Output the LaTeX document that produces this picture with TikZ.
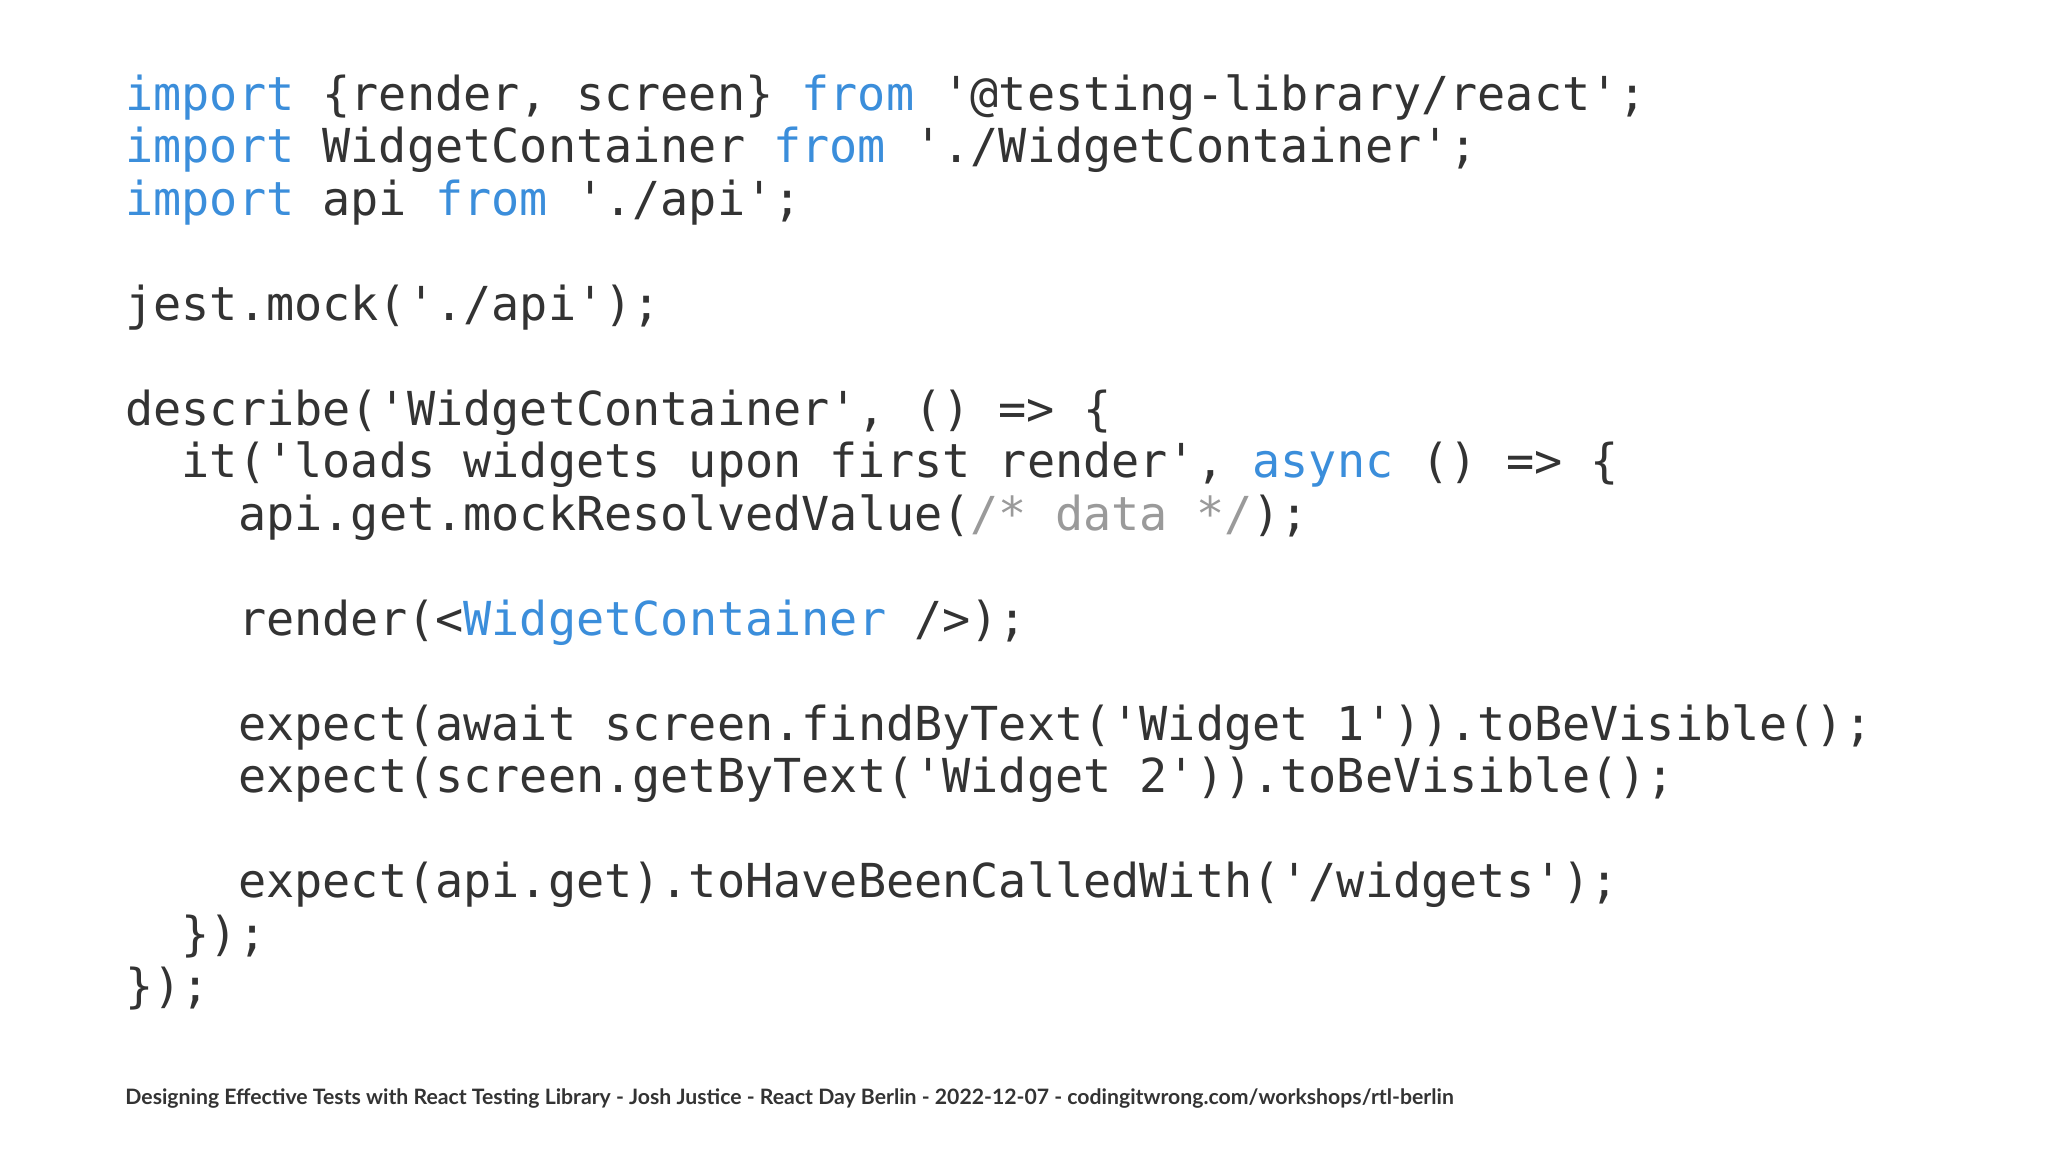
\documentclass[tikz,border=0pt]{standalone}
\usepackage{fontspec}
\setmonofont{DejaVu Sans Mono}
\newfontfamily\footfont{Lato}
\definecolor{kw}{HTML}{3B8EDB}
\definecolor{txt}{HTML}{333333}
\definecolor{cm}{HTML}{9A9A9A}
\newcommand{\K}[1]{\textcolor{kw}{#1}}
\begin{document}
\begin{tikzpicture}[x=1pt,y=1pt,
  code/.style={anchor=base west,inner sep=0pt,text=txt,font=\ttfamily\fontsize{23.4}{26}\selectfont}]
\useasboundingbox[fill=white] (0,0) rectangle (1024,-576);
\def\L#1#2#3{\node[code] (l#1) at (62.5+#2*14.1,{-55-26.25*#1}) {#3};}
\L{0}{0}{\K{import} \{render, screen\} \K{from} '@testing-library/react';}
\L{1}{0}{\K{import} WidgetContainer \K{from} './WidgetContainer';}
\L{2}{0}{\K{import} api \K{from} './api';}
\L{4}{0}{jest.mock('./api');}
\L{6}{0}{describe('WidgetContainer', () => \{}
\L{7}{2}{it('loads widgets upon first render', \K{async} () => \{}
\L{8}{4}{api.get.mockResolvedValue(\textcolor{cm}{/* data */});}
\L{10}{4}{render(<\K{WidgetContainer} />);}
\L{12}{4}{expect(await screen.findByText('Widget 1')).toBeVisible();}
\L{13}{4}{expect(screen.getByText('Widget 2')).toBeVisible();}
\L{15}{4}{expect(api.get).toHaveBeenCalledWith('/widgets');}
\L{16}{2}{\});}
\L{17}{0}{\});}
\node[anchor=base west,inner sep=0pt,text=txt] (foot) at (62.5,-552)
 {\resizebox{664pt}{!}{\footfont\bfseries Designing Effective Tests with React Testing Library - Josh Justice - React Day Berlin - 2022-12-07 - codingitwrong.com/workshops/rtl-berlin}};
\end{tikzpicture}
\end{document}
